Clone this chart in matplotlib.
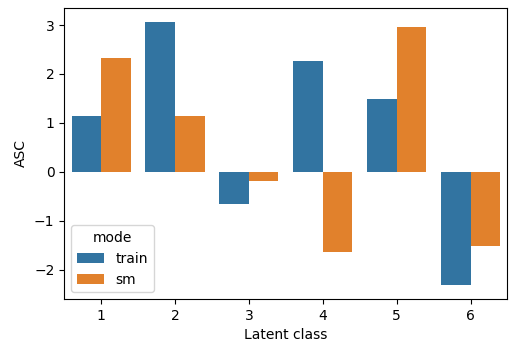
import matplotlib
matplotlib.use('Agg')
import pandas as pd
import seaborn as sns
import matplotlib.pyplot as plt

classes = [1, 2, 3, 4, 5, 6]
train_asc = [1.15, 3.07, -0.65, 2.26, 1.48, -2.32]
sm_asc = [2.32, 1.14, -0.18, -1.64, 2.95, -1.52]

df = pd.DataFrame({
    'Latent class': classes * 2,
    'ASC': train_asc + sm_asc,
    'mode': ['train'] * len(classes) + ['sm'] * len(classes),
})

fig, ax = plt.subplots(figsize=(5.09, 3.43), dpi=100)
sns.barplot(data=df, x='Latent class', y='ASC', hue='mode', ax=ax)
ax.set_ylim(-2.6, 3.35)
ax.legend(title='mode', loc='lower left')
fig.subplots_adjust(left=0.126, right=0.997, top=0.977, bottom=0.128)
fig.savefig('out.png', dpi=100)
